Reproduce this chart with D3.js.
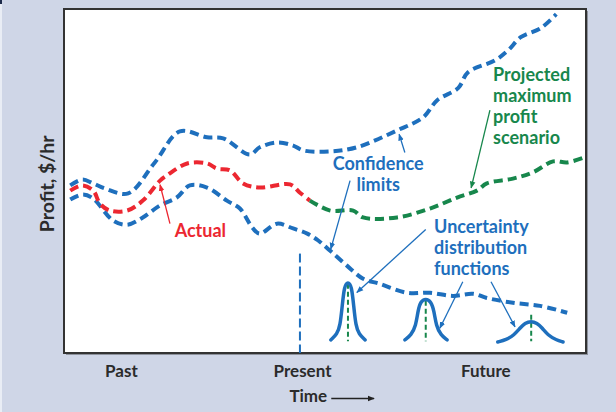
<!DOCTYPE html>
<meta charset="utf-8">
<head>
  <script src="https://d3js.org/d3.v7.min.js"></script>
  <style>
    body { margin: 0; background: #cfd6e7; }
    svg { display: block; }
    text { font-family: Lato, "Open Sans", sans-serif; font-weight: 700; }
  </style>
</head>
<body>
  <svg id="chart"></svg>

  <script>
    // ---- data (time 0..100, profit 0..100, arbitrary units) ----
    var upperLimit = [[1.2,48.7],[3.5,50.4],[5.6,49.3],[7.9,47.8],[12.3,46.4],[17.4,55.4],[22.2,64.4],
      [27.4,62.7],[30.5,62.4],[35.6,57.7],[37.5,59.8],[40.8,61.2],[43.9,60.3],[45.8,58.9],[51.0,58.6],
      [56.1,59.8],[63.8,64.7],[68.8,68.5],[71.5,73.5],[75.5,77.0],[77.4,81.6],[82.6,85.1],[85.1,88.0],
      [87.5,91.8],[91.4,94.5],[94.3,98.5]];

    var actual = [[1.2,47.2],[3.5,48.7],[5.6,47.2],[6.9,43.4],[8.8,41.4],[12.1,41.4],[15.1,44.3],
      [18.4,50.1],[19.7,51.6],[23.6,55.1],[27.4,55.1],[29.3,53.6],[31.8,53.1],[34.3,49.3],[37.5,48.1],
      [43.3,49.0],[45.2,46.6],[47.1,44.3]];

    var projected = [[47.1,44.3],[51.0,41.4],[55.4,41.4],[57.3,39.4],[63.8,39.4],[70.1,42.0],[75.3,45.2],
      [79.1,47.2],[81.0,49.3],[86.0,50.7],[89.8,52.5],[93.7,55.7],[96.4,55.4],[99.8,56.9]];

    var lowerLimit = [[1.2,44.6],[3.6,46.1],[5.6,44.9],[9.4,38.5],[12.1,37.3],[15.1,39.4],[18.4,42.9],
      [21.6,45.2],[24.1,48.7],[27.4,48.1],[31.2,44.3],[33.7,42.0],[36.2,36.2],[37.5,34.7],[40.8,37.6],
      [43.9,36.2],[46.6,34.7],[48.7,32.7],[51.0,29.7],[54.2,25.4],[57.3,21.6],[60.5,20.1],[65.7,17.5],
      [70.1,17.5],[74.5,16.6],[78.4,17.2],[81.0,16.0],[86.0,14.6],[91.2,13.7],[96.4,11.7]];

    // uncertainty distribution curves
    var dist1 = [[51.1,3.8],[52.3,5.5],[52.9,7.9],[53.3,13.7],[53.7,19.5],[54.4,20.8],[55.1,19.5],
      [55.5,13.7],[55.9,7.9],[56.5,5.5],[57.7,3.8]];
    var dist2 = [[65.3,3.8],[66.5,5.2],[67.4,7.9],[67.8,12.2],[68.3,15.0],[69.3,15.8],[70.3,15.0],
      [70.9,12.2],[71.3,7.9],[72.2,5.2],[73.4,3.8]];
    var dist3 = [[83.1,3.2],[84.7,3.8],[86.2,5.2],[87.4,7.3],[88.3,8.7],[89.5,9.3],[90.6,8.7],
      [91.6,7.3],[92.7,5.2],[94.3,3.8],[95.6,3.2]];
    // median markers [time, top, bottom]
    var medians = [[54.4,20.1,3.4],[69.3,15.2,3.4],[89.5,11.1,3.4]];

    var presentTime = 45.2, presentTop = 28.9;

    var periodLabels = ["Past", "Present", "Future"];
    var periodTimes = [10.9, 45.6, 80.7];

    // annotation arrows [x1,y1,x2,y2] in data units
    var actualArrow = [[20.3,37.6,18.4,48.9]];
    var confArrows = [[65.3,58.3,64.2,63.6],[54.8,50.1,51.1,30.2]];
    var projArrows = [[81.6,70.6,78.0,48.0]];
    var uncArrows = [[69.3,35.9,56.1,17.6],[76.4,20.7,72.0,7.2],[81.8,20.7,86.4,7.6]];

    // ---- setup ----
    var W = 616, H = 412;
    var margin = {top: 9, right: 30, bottom: 59, left: 64},
        width = W - margin.left - margin.right,
        height = H - margin.top - margin.bottom;

    var blue = "#1e6fbd", red = "#ec2731", green = "#17874c";

    var svg = d3.select("#chart").attr("width", W).attr("height", H);

    // page edge artefacts
    svg.append("rect").attr("x", 0).attr("y", 0).attr("width", 2).attr("height", H).attr("fill", "#e9edf5");
    svg.append("rect").attr("x", 0).attr("y", 0).attr("width", 2).attr("height", 4).attr("fill", "#1d2a4a");

    // frame with shadow
    svg.append("rect")
      .attr("x", margin.left + 2).attr("y", margin.top + 2)
      .attr("width", width).attr("height", height)
      .attr("fill", "#8d929c");
    svg.append("rect")
      .attr("x", margin.left).attr("y", margin.top)
      .attr("width", width).attr("height", height)
      .attr("fill", "#fff").attr("stroke", "#333").attr("stroke-width", 2);

    var chart = svg.append("g")
      .attr("transform", "translate(" + margin.left + "," + margin.top + ")");

    var x = d3.scaleLinear().domain([0, 100]).range([0, width]);
    var y = d3.scaleLinear().domain([0, 100]).range([height, 0]);

    var line = d3.line()
      .x(function(d) { return x(d[0]); })
      .y(function(d) { return y(d[1]); })
      .curve(d3.curveCatmullRom.alpha(0.5));

    // present marker
    chart.append("line")
      .attr("x1", x(presentTime)).attr("x2", x(presentTime))
      .attr("y1", y(presentTop)).attr("y2", y(0))
      .attr("stroke", blue).attr("stroke-width", 2)
      .attr("stroke-dasharray", "9,4");

    // series
    function dashed(data, color) {
      chart.append("path")
        .datum(data)
        .attr("fill", "none")
        .attr("stroke", color)
        .attr("stroke-width", 4)
        .attr("stroke-dasharray", "9,5")
        .attr("d", line);
    }
    dashed(upperLimit, blue);
    dashed(lowerLimit, blue);
    dashed(actual, red);
    dashed(projected, green);

    // distributions
    chart.selectAll(".median")
      .data(medians)
      .enter().append("line")
      .attr("class", "median")
      .attr("x1", function(d) { return x(d[0]); })
      .attr("x2", function(d) { return x(d[0]); })
      .attr("y1", function(d) { return y(d[1]); })
      .attr("y2", function(d) { return y(d[2]); })
      .attr("stroke", green).attr("stroke-width", 2)
      .attr("stroke-dasharray", "5,3");

    chart.selectAll(".dist")
      .data([dist1, dist2, dist3])
      .enter().append("path")
      .attr("class", "dist")
      .attr("fill", "none")
      .attr("stroke", blue)
      .attr("stroke-width", 3.5)
      .attr("stroke-linecap", "round")
      .attr("d", d3.line()
        .x(function(d) { return x(d[0]); })
        .y(function(d) { return y(d[1]); })
        .curve(d3.curveBasis));

    // arrow markers
    var defs = svg.append("defs");
    [["aRed", red], ["aBlue", blue], ["aGreen", green], ["aBlack", "#222"]].forEach(function(m) {
      defs.append("marker")
        .attr("id", m[0])
        .attr("viewBox", "0 0 10 10")
        .attr("refX", 9).attr("refY", 5)
        .attr("markerWidth", 7).attr("markerHeight", 7)
        .attr("markerUnits", "userSpaceOnUse")
        .attr("orient", "auto")
        .append("path")
        .attr("d", "M0,1 L10,5 L0,9 Z")
        .attr("fill", m[1]);
    });

    function arrows(data, color, marker) {
      chart.selectAll(null)
        .data(data)
        .enter().append("line")
        .attr("x1", function(d) { return x(d[0]); })
        .attr("y1", function(d) { return y(d[1]); })
        .attr("x2", function(d) { return x(d[2]); })
        .attr("y2", function(d) { return y(d[3]); })
        .attr("stroke", color).attr("stroke-width", 1.3)
        .attr("marker-end", "url(#" + marker + ")");
    }
    arrows(actualArrow, red, "aRed");
    arrows(confArrows, blue, "aBlue");
    arrows(projArrows, green, "aGreen");
    arrows(uncArrows, blue, "aBlue");

    // annotation text
    function label(lines, t, v, color, anchor) {
      var txt = chart.append("text")
        .attr("x", x(t)).attr("y", y(v))
        .attr("fill", color)
        .attr("font-size", 18)
        .attr("text-anchor", anchor || "start");
      lines.forEach(function(s, i) {
        txt.append("tspan").attr("x", x(t)).attr("dy", i ? 21 : 0).text(s);
      });
    }
    label(["Actual"], 21.2, 33.8, red);
    label(["Confidence", "limits"], 60.2, 53.1, blue, "middle");
    label(["Projected", "maximum", "profit", "scenario"], 82.2, 79.0, green);
    label(["Uncertainty", "distribution", "functions"], 70.9, 35.0, blue);

    // bottom axis with period labels
    var xAxis = d3.axisBottom(x)
      .tickValues(periodTimes)
      .tickFormat(function(d, i) { return periodLabels[i]; })
      .tickSize(0);
    var gx = chart.append("g")
      .attr("transform", "translate(0," + height + ")")
      .call(xAxis);
    gx.select(".domain").remove();
    gx.selectAll("text")
      .attr("dy", null).attr("y", 24)
      .attr("font-family", "Lato, sans-serif")
      .attr("font-size", 17)
      .attr("fill", "#2b2b2b");

    // axis titles
    svg.append("text")
      .attr("x", margin.left + x(46.8)).attr("y", 402)
      .attr("text-anchor", "middle")
      .attr("font-size", 17).attr("fill", "#2b2b2b")
      .text("Time");
    svg.append("line")
      .attr("x1", margin.left + x(51.2)).attr("x2", margin.left + x(59.4))
      .attr("y1", 398.5).attr("y2", 398.5)
      .attr("stroke", "#222").attr("stroke-width", 1.5)
      .attr("marker-end", "url(#aBlack)");

    svg.append("text")
      .attr("transform", "translate(54," + (margin.top + y(49.2)) + ") rotate(-90)")
      .attr("text-anchor", "middle")
      .attr("font-size", 19.5).attr("fill", "#2b2b2b")
      .text("Profit, $/hr");
  </script>
</body>
